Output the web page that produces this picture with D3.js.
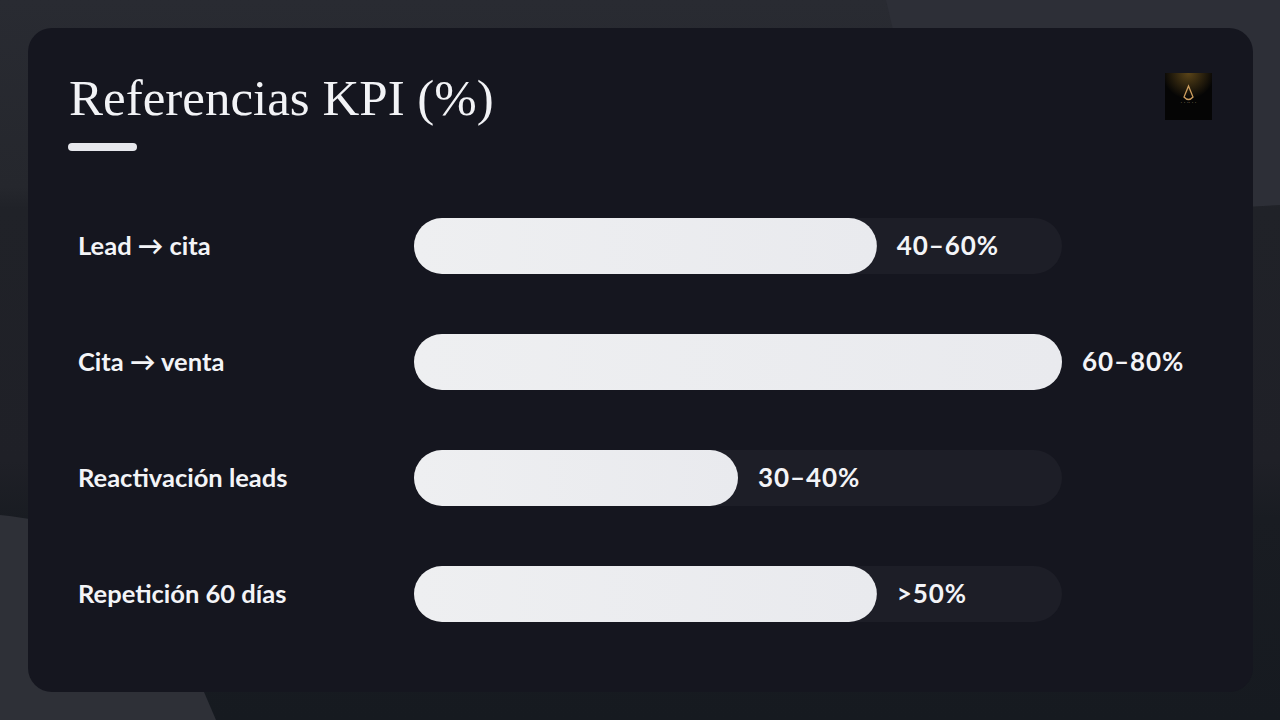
<!DOCTYPE html>
<html><head><meta charset="utf-8">
<script src="https://cdn.jsdelivr.net/npm/d3@7"></script>
<style>html,body{margin:0;padding:0;background:#22252c;overflow:hidden}</style>
</head><body>
<svg id="c" width="1280" height="720"></svg>
<script>
const categories = ["Lead \u2192 cita", "Cita \u2192 venta", "Reactivación leads", "Repetición 60 días"];
const values = [50, 70, 35, 50];           // midpoints of reference ranges
const valueLabels = ["40–60%", "60–80%", "30–40%", ">50%"];
const title = "Referencias KPI (%)";

const svg = d3.select("#c");
const W = 1280, H = 720;
const defs = svg.append("defs");

// background
const vg = defs.append("linearGradient").attr("id", "bgv").attr("x1", 0).attr("y1", 0).attr("x2", 0).attr("y2", 1);
[[0, "#292b32"], [0.26, "#25272d"], [0.29, "#202228"], [0.64, "#1f2027"], [0.72, "#191c22"], [1, "#161a20"]]
  .forEach(([o, c]) => vg.append("stop").attr("offset", o).attr("stop-color", c));
svg.append("rect").attr("width", W).attr("height", H).attr("fill", "url(#bgv)");
svg.append("path").attr("d", "M886,0 L1280,0 L1280,205 L1100,215 L900,60 Q893,30 886,0 Z").attr("fill", "#2d2f37");
svg.append("path").attr("d", "M0,515 C50,520 120,535 150,580 L204,692 L216,720 L0,720 Z").attr("fill", "#2e3037");

// card
svg.append("rect").attr("x", 28).attr("y", 28).attr("width", 1225).attr("height", 664)
  .attr("rx", 24).attr("fill", "#15161f");

// title
svg.append("text").attr("x", 69).attr("y", 115).text(title)
  .attr("font-family", "Liberation Serif, DejaVu Serif, serif").attr("font-size", 51)
  .attr("fill", "#f2f3f6");
svg.append("rect").attr("x", 68).attr("y", 143).attr("width", 69).attr("height", 8).attr("rx", 4).attr("fill", "#e6e7ec");

// logo
const rg = defs.append("radialGradient").attr("id", "glow").attr("cx", "50%").attr("cy", "0%").attr("r", "55%");
rg.append("stop").attr("offset", "0%").attr("stop-color", "#5a4418");
rg.append("stop").attr("offset", "100%").attr("stop-color", "#050505");
svg.append("rect").attr("x", 1165).attr("y", 73).attr("width", 47).attr("height", 47).attr("fill", "url(#glow)");
svg.append("path").attr("d", "M1188.5,86 L1184,97 Q1188.5,102 1193,97 Z").attr("fill", "none").attr("stroke", "#d0a060").attr("stroke-width", 1.3);
svg.append("text").attr("x", 1188.5).attr("y", 104).attr("text-anchor", "middle").text("· · ·· · ·")
  .attr("font-size", 5).attr("fill", "#c9b48a").attr("font-family", "DejaVu Sans");

const bg = defs.append("linearGradient").attr("id", "barg");
bg.append("stop").attr("offset", "0%").attr("stop-color", "#eeeff1");
bg.append("stop").attr("offset", "100%").attr("stop-color", "#e9eaee");

// scales
const x = d3.scaleLinear().domain([0, d3.max(values)]).range([414, 1062]);
const y = d3.scaleBand().domain(categories).range([218, 218 + 116 * 3 + 56]).paddingInner(60 / 116).paddingOuter(0);
const bw = y.bandwidth();

const rows = svg.append("g").selectAll("g").data(categories).join("g");

rows.append("rect").attr("x", x(0)).attr("y", d => y(d)).attr("width", x.range()[1] - x(0))
  .attr("height", bw).attr("rx", bw / 2).attr("fill", "#1d1e27");
rows.append("rect").attr("x", x(0)).attr("y", d => y(d)).attr("width", (d, i) => x(values[i]) - x(0))
  .attr("height", bw).attr("rx", bw / 2).attr("fill", "url(#barg)");

rows.append("text").attr("x", 78).attr("y", d => y(d) + bw / 2).attr("dy", "0.36em").text(d => d)
  .attr("font-family", "Lato, sans-serif").attr("font-weight", 700).attr("font-size", 25.5).attr("fill", "#f3f4f7");
rows.append("text").attr("x", (d, i) => x(values[i]) + 20).attr("y", d => y(d) + bw / 2).attr("dy", "0.36em")
  .text((d, i) => valueLabels[i]).attr("letter-spacing", 0.9)
  .attr("font-family", "Lato, sans-serif").attr("font-weight", 700).attr("font-size", 26).attr("fill", "#f3f4f7");
</script>
</body></html>
